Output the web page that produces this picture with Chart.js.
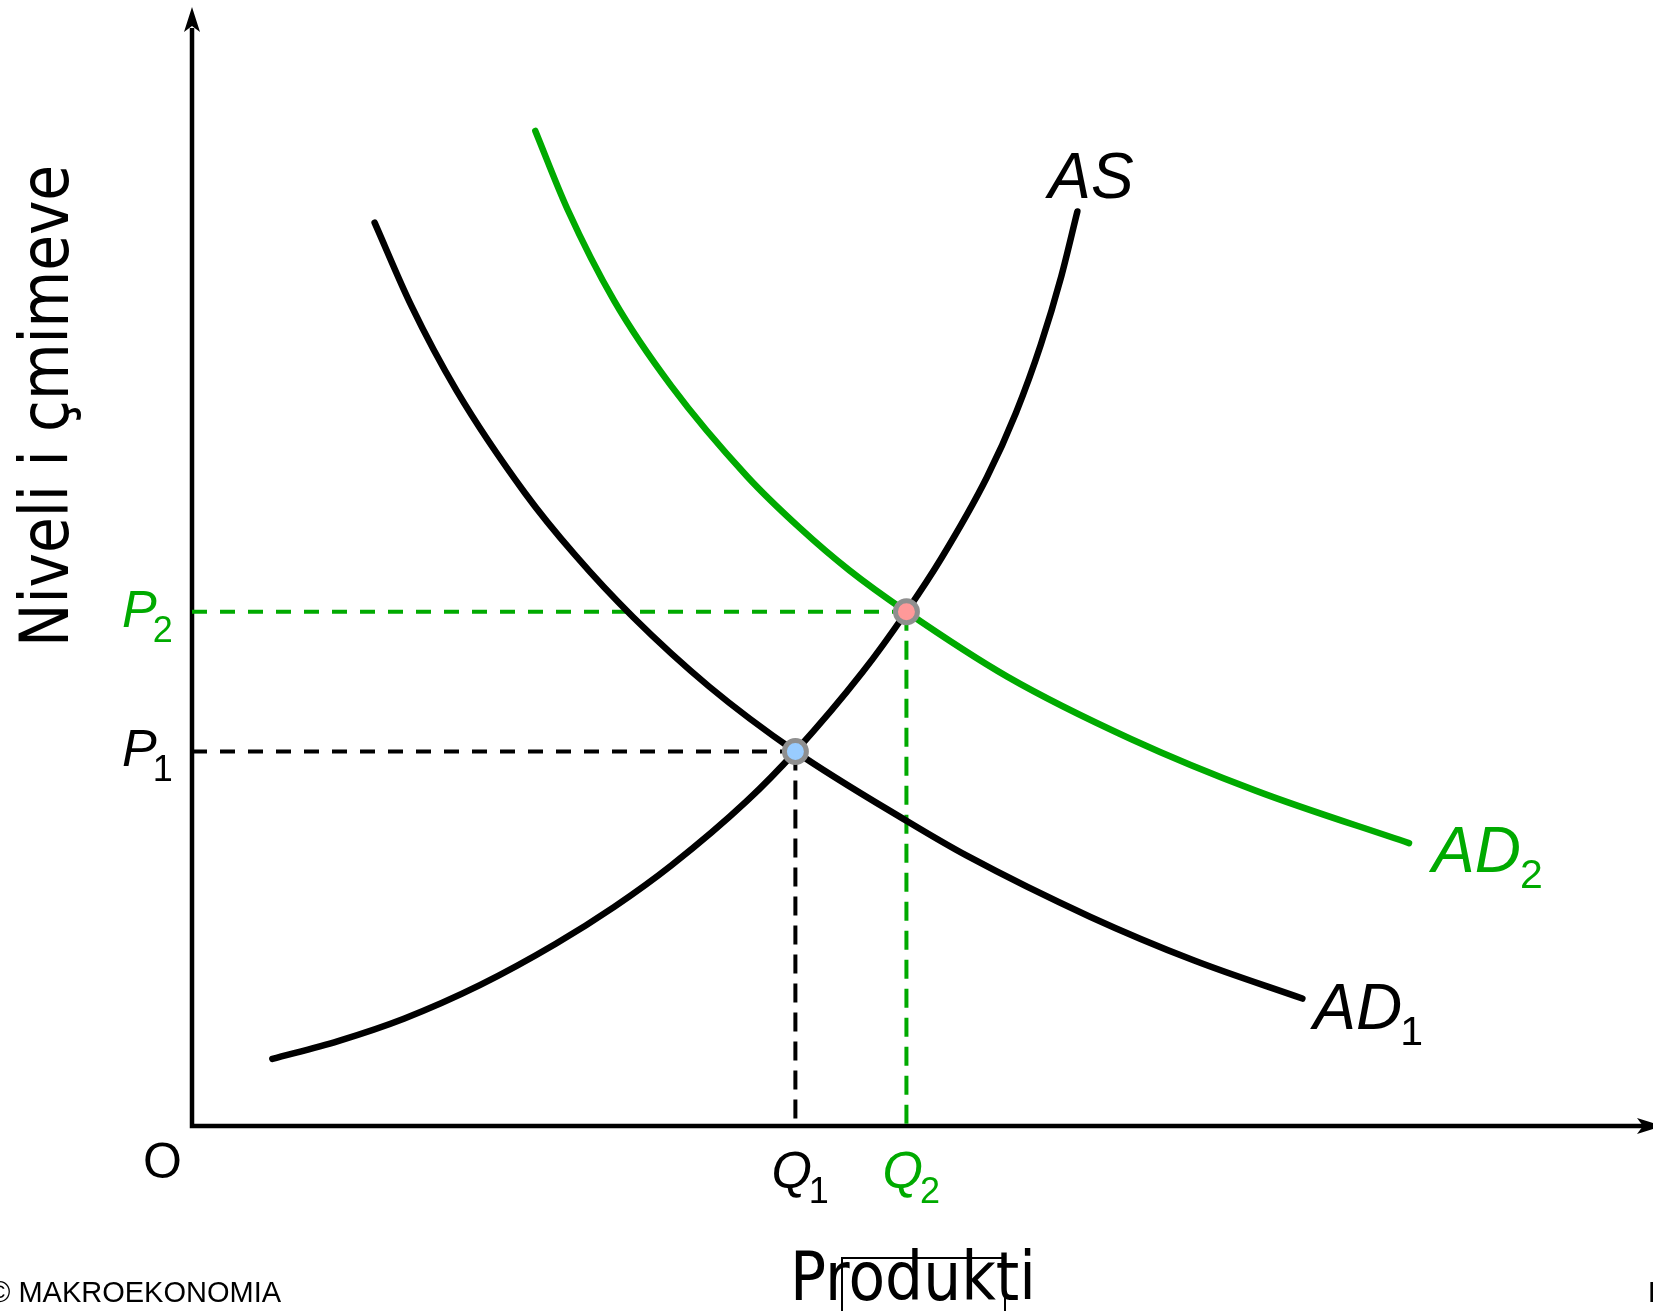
<!DOCTYPE html>
<html><head><meta charset="utf-8">
<script src="https://cdn.jsdelivr.net/npm/chart.js@4.4.0/dist/chart.umd.min.js"></script>
<style>html,body{margin:0;padding:0;background:#fff;overflow:hidden}canvas{display:block}</style>
</head><body>
<canvas id="c" width="1653" height="1311"></canvas>
<script>
// ---- data (x: Produkti, y: Niveli i çmimeve; 0..100 units) ----
const asX  = [5.5, 10.0, 14.5, 19.7, 24.9, 28.9, 32.8, 38.0, 41.3, 45.9, 48.9, 51.3, 54.4, 56.4, 58.1, 59.5, 60.6];
const asY  = [6.0, 7.6, 9.6, 12.6, 16.3, 19.6, 23.3, 29.1, 33.5, 40.6, 46.0, 50.8, 58.0, 63.8, 69.9, 76.0, 81.8];
const ad1X = [12.5, 15.0, 18.1, 22.8, 26.2, 30.2, 35.4, 41.3, 48.9, 53.0, 61.5, 68.6, 76.0];
const ad1Y = [80.8, 73.4, 65.8, 56.6, 51.1, 45.5, 39.3, 33.5, 27.3, 24.2, 18.7, 14.8, 11.4];
const ad2X = [23.5, 25.7, 28.9, 32.8, 38.0, 41.6, 45.0, 48.9, 55.8, 64.3, 72.8, 83.3];
const ad2Y = [89.0, 82.0, 73.8, 66.2, 58.1, 53.5, 49.7, 46.0, 40.2, 34.6, 30.0, 25.3];
const eqQ = [41.3, 48.9];   // Q1, Q2
const eqP = [33.5, 46.0];   // P1, P2
const priceLabels = [['P','1'], ['P','2']];
const qtyLabels   = [['Q','1'], ['Q','2']];
const curveLabels = [['AS',''], ['AD','1'], ['AD','2']];
const xTitle = 'Produkti';
const yTitle = 'Niveli i çmimeve';
const originLabel = 'O';
const credit = '© MAKROEKONOMIA';

const GREEN = '#00aa00', BLACK = '#000000';
const pts = (xs, ys) => xs.map((x, i) => ({x, y: ys[i]}));

const curve = (data, color) => ({
  data, showLine: true, borderColor: color, borderWidth: 6.5, pointRadius: 0,
  cubicInterpolationMode: 'monotone', borderCapStyle: 'round', borderJoinStyle: 'round', fill: false
});
const dashed = (data, color, dash) => ({
  data, showLine: true, borderColor: color, borderWidth: 4, pointRadius: 0,
  borderDash: dash, tension: 0, fill: false
});

const datasets = [
  { data: [{x: eqQ[0], y: eqP[0]}], pointRadius: 11, pointBorderWidth: 5,
    pointBackgroundColor: '#99ccff', pointBorderColor: '#8f8f8f', showLine: false },
  { data: [{x: eqQ[1], y: eqP[1]}], pointRadius: 11, pointBorderWidth: 5,
    pointBackgroundColor: '#ff9999', pointBorderColor: '#8f8f8f', showLine: false },
  curve(pts(asX, asY), BLACK),
  curve(pts(ad2X, ad2Y), GREEN),
  curve(pts(ad1X, ad1Y), BLACK),
  dashed([{x: 0, y: eqP[0]}, {x: eqQ[0], y: eqP[0]}], BLACK, [15, 13]),
  dashed([{x: eqQ[0], y: eqP[0]}, {x: eqQ[0], y: 0}], BLACK, [19, 10]),
  dashed([{x: 0, y: eqP[1]}, {x: eqQ[1], y: eqP[1]}], GREEN, [15, 13]),
  dashed([{x: eqQ[1], y: eqP[1]}, {x: eqQ[1], y: 0}], GREEN, [19, 10]),
];

function arrow(ctx, tx, ty, dx, dy) {
  const L = 25, W = 8, N = 19, px = -dy, py = dx;
  ctx.beginPath();
  ctx.moveTo(tx, ty);
  ctx.lineTo(tx - dx*L + px*W, ty - dy*L + py*W);
  ctx.lineTo(tx - dx*N, ty - dy*N);
  ctx.lineTo(tx - dx*L - px*W, ty - dy*L - py*W);
  ctx.closePath();
  ctx.fill();
}
function subText(ctx, main, sub, x, y, color, mainFont, subFont, dy, gap) {
  ctx.fillStyle = color;
  ctx.font = mainFont;
  ctx.textAlign = 'left';
  ctx.textBaseline = 'alphabetic';
  ctx.fillText(main, x, y);
  const w = ctx.measureText(main).width;
  if (sub) { ctx.font = subFont; ctx.fillText(sub, x + w + gap, y + dy); }
}
function fitText(ctx, text, font, width) {
  ctx.font = font;
  return width / ctx.measureText(text).width;
}

const overlay = {
  id: 'overlay',
  beforeDraw(chart) {
    const ctx = chart.ctx;
    ctx.save(); ctx.fillStyle = '#fff'; ctx.fillRect(0, 0, chart.width, chart.height); ctx.restore();
  },
  beforeDatasetsDraw(chart) {
    const ctx = chart.ctx, a = chart.chartArea;
    ctx.save();
    ctx.strokeStyle = '#000'; ctx.fillStyle = '#000'; ctx.lineWidth = 4.5; ctx.lineCap = 'butt';
    ctx.beginPath();
    ctx.moveTo(a.left, a.bottom + 2.25); ctx.lineTo(a.left, a.top + 20);
    ctx.moveTo(a.left - 2.25, a.bottom); ctx.lineTo(a.right - 10, a.bottom);
    ctx.stroke();
    arrow(ctx, a.left, a.top - 1, 0, -1);
    arrow(ctx, a.right + 9, a.bottom, 1, 0);
    ctx.restore();
  },
  afterDraw(chart) {
    const ctx = chart.ctx, xs = chart.scales.x, ys = chart.scales.y;
    ctx.save();
    const iMain = 'italic 52px "Liberation Sans", Arial, sans-serif';
    const iSub = '36px "Liberation Sans", Arial, sans-serif';
    priceLabels.forEach((l, i) => {
      subText(ctx, l[0], l[1], 122, ys.getPixelForValue(eqP[i]) + 15, i ? GREEN : BLACK, iMain, iSub, 15, -4);
    });
    qtyLabels.forEach((l, i) => {
      subText(ctx, l[0], l[1], xs.getPixelForValue(eqQ[i]) - 24, 1188, i ? GREEN : BLACK, iMain, iSub, 15, -3);
    });
    const big = 'italic 64px "Liberation Sans", Arial, sans-serif';
    const bigSub = '41px "Liberation Sans", Arial, sans-serif';
    const endPx = (xsArr, ysArr) => ({x: xs.getPixelForValue(xsArr[xsArr.length-1]), y: ys.getPixelForValue(ysArr[ysArr.length-1])});
    const asEnd = endPx(asX, asY), ad1End = endPx(ad1X, ad1Y), ad2End = endPx(ad2X, ad2Y);
    subText(ctx, curveLabels[0][0], curveLabels[0][1], asEnd.x - 29, asEnd.y - 13, BLACK, big, bigSub, 16, 0);
    subText(ctx, curveLabels[1][0], curveLabels[1][1], ad1End.x + 11, ad1End.y + 30, BLACK, big, bigSub, 16, -2);
    subText(ctx, curveLabels[2][0], curveLabels[2][1], ad2End.x + 23, ad2End.y + 29, GREEN, big, bigSub, 16, -1);
    ctx.fillStyle = '#000';
    ctx.font = '50px "Liberation Sans", Arial, sans-serif';
    ctx.textAlign = 'left';
    ctx.fillText(originLabel, 143, 1178);
    const tFont = '67px "DejaVu Sans", sans-serif';
    let k = fitText(ctx, yTitle, tFont, 482);
    ctx.save();
    ctx.translate(68, 406); ctx.rotate(-Math.PI/2); ctx.scale(k, 1);
    ctx.textAlign = 'center'; ctx.fillStyle = '#000'; ctx.font = tFont;
    ctx.fillText(yTitle, 0, 0);
    ctx.restore();
    k = fitText(ctx, xTitle, tFont, 246);
    ctx.save();
    ctx.translate(790, 1300); ctx.scale(k, 1);
    ctx.textAlign = 'left'; ctx.fillStyle = '#000'; ctx.font = tFont;
    ctx.fillText(xTitle, 0, 0);
    ctx.restore();
    ctx.strokeStyle = '#000'; ctx.lineWidth = 2;
    ctx.beginPath();
    ctx.moveTo(842, 1320); ctx.lineTo(842, 1258); ctx.lineTo(1005, 1258); ctx.lineTo(1005, 1320);
    ctx.stroke();
    ctx.font = '29px "Liberation Sans", Arial, sans-serif';
    ctx.fillStyle = '#000';
    ctx.fillText(credit, -11, 1302);
    ctx.fillText('D', 1648, 1302);
    ctx.restore();
  }
};

new Chart(document.getElementById('c'), {
  type: 'scatter',
  data: { datasets },
  options: {
    responsive: false, animation: false, devicePixelRatio: 1,
    layout: { autoPadding: false, padding: { left: 192, right: 0, top: 8, bottom: 185 } },
    scales: {
      x: { type: 'linear', min: 0, max: 100, display: false },
      y: { type: 'linear', min: 0, max: 100, display: false }
    },
    plugins: { legend: { display: false }, tooltip: { enabled: false }, title: { display: false } }
  },
  plugins: [overlay]
});
</script>
</body></html>
